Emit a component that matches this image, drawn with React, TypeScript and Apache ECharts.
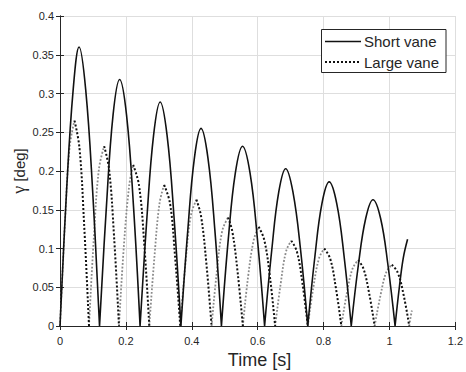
import React, { useEffect, useRef } from "react";
import * as echarts from "echarts";

// Time axis ticks / gamma axis ticks
const xTicks = [0, 0.2, 0.4, 0.6, 0.8, 1, 1.2];
const yTicks = [0, 0.05, 0.1, 0.15, 0.2, 0.25, 0.3, 0.35, 0.4];

// Short vane: one arch per list (time [s], gamma [deg])
const shortTime: number[][] = [
  [0, 0.02, 0.04, 0.058, 0.078, 0.099, 0.12],
  [0.12, 0.141, 0.161, 0.181, 0.202, 0.223, 0.243],
  [0.243, 0.264, 0.284, 0.304, 0.325, 0.346, 0.367],
  [0.367, 0.388, 0.408, 0.428, 0.449, 0.47, 0.49],
  [0.49, 0.511, 0.532, 0.554, 0.577, 0.599, 0.621],
  [0.621, 0.643, 0.664, 0.685, 0.707, 0.73, 0.752],
  [0.752, 0.774, 0.795, 0.817, 0.84, 0.862, 0.884],
  [0.884, 0.906, 0.928, 0.95, 0.973, 0.995, 1.017],
  [1.017, 1.03, 1.042, 1.055],
];
const shortGamma: number[][] = [
  [0, 0.175, 0.305, 0.36, 0.305, 0.175, 0],
  [0, 0.155, 0.272, 0.318, 0.272, 0.155, 0],
  [0, 0.141, 0.246, 0.289, 0.246, 0.141, 0],
  [0, 0.124, 0.217, 0.255, 0.217, 0.124, 0],
  [0, 0.113, 0.197, 0.232, 0.197, 0.113, 0],
  [0, 0.099, 0.173, 0.203, 0.173, 0.099, 0],
  [0, 0.091, 0.158, 0.186, 0.158, 0.091, 0],
  [0, 0.08, 0.139, 0.163, 0.139, 0.08, 0],
  [0, 0.05, 0.088, 0.112],
];

// Large vane: one arch per list
const largeTime: number[][] = [
  [0, 0.015, 0.029, 0.044, 0.059, 0.073, 0.088],
  [0.088, 0.103, 0.118, 0.134, 0.149, 0.164, 0.179],
  [0.179, 0.194, 0.21, 0.222, 0.24, 0.256, 0.271],
  [0.271, 0.287, 0.302, 0.316, 0.334, 0.349, 0.365],
  [0.365, 0.381, 0.397, 0.414, 0.428, 0.444, 0.46],
  [0.46, 0.476, 0.492, 0.51, 0.523, 0.539, 0.555],
  [0.555, 0.571, 0.588, 0.603, 0.62, 0.637, 0.653],
  [0.653, 0.67, 0.686, 0.702, 0.719, 0.736, 0.752],
  [0.752, 0.769, 0.786, 0.802, 0.82, 0.837, 0.854],
  [0.854, 0.871, 0.888, 0.905, 0.921, 0.938, 0.955],
  [0.955, 0.973, 0.99, 1.007, 1.025, 1.043, 1.06],
  [1.06, 1.064, 1.068],
];
const largeGamma: number[][] = [
  [0, 0.133, 0.23, 0.265, 0.23, 0.133, 0],
  [0, 0.116, 0.202, 0.232, 0.202, 0.116, 0],
  [0, 0.104, 0.181, 0.208, 0.181, 0.104, 0],
  [0, 0.091, 0.158, 0.182, 0.158, 0.091, 0],
  [0, 0.082, 0.142, 0.163, 0.142, 0.082, 0],
  [0, 0.07, 0.122, 0.14, 0.122, 0.07, 0],
  [0, 0.064, 0.111, 0.128, 0.111, 0.064, 0],
  [0, 0.055, 0.096, 0.11, 0.096, 0.055, 0],
  [0, 0.05, 0.087, 0.1, 0.087, 0.05, 0],
  [0, 0.043, 0.074, 0.085, 0.074, 0.043, 0],
  [0, 0.04, 0.069, 0.079, 0.069, 0.04, 0],
  [0, 0.011, 0.02],
];

const seriesNames = ["Short vane", "Large vane"];
const axisTitles = { x: "Time [s]", yGreek: "γ", yRest: " [deg]" };

type Pt = (number | string)[];

function joinArches(ts: number[][], gs: number[][], from?: number, to?: number): Pt[] {
  const out: Pt[] = [];
  ts.forEach((t, a) => {
    const g = gs[a];
    const s = from === undefined ? 0 : Math.min(from, t.length - 1);
    const e = to === undefined ? t.length - 1 : Math.min(to, t.length - 1);
    if (e <= s) return;
    for (let i = s; i <= e; i++) out.push([t[i], g[i]]);
    out.push(["-", "-"]);
  });
  return out;
}

export default function App() {
  const ref = useRef<HTMLDivElement>(null);
  useEffect(() => {
    if (!ref.current) return;
    const chart = echarts.init(ref.current, undefined, { renderer: "svg" });
    const textColor = "#262626";
    const font = "'Liberation Sans', Arial, sans-serif";
    const peakIdx = 3;
    const axisCommon = {
      axisLine: { show: true, lineStyle: { color: textColor, width: 1 } },
      axisTick: { show: true, inside: true, length: 4, lineStyle: { color: textColor } },
    };
    chart.setOption({
      animation: false,
      backgroundColor: "#ffffff",
      grid: { left: 60, top: 16, width: 398, height: 310, containLabel: false },
      xAxis: [
        {
          type: "value",
          min: xTicks[0],
          max: xTicks[xTicks.length - 1],
          interval: 0.2,
          ...axisCommon,
          axisLabel: { color: textColor, fontSize: 11, fontFamily: font, margin: 9 },
          splitLine: { show: true, lineStyle: { color: "#dedede", width: 1 } },
        },
        {
          type: "value",
          position: "top",
          min: xTicks[0],
          max: xTicks[xTicks.length - 1],
          interval: 0.2,
          ...axisCommon,
          axisLabel: { show: false },
          splitLine: { show: false },
        },
      ],
      yAxis: [
        {
          type: "value",
          min: yTicks[0],
          max: yTicks[yTicks.length - 1],
          interval: 0.05,
          ...axisCommon,
          axisLabel: { color: textColor, fontSize: 11, fontFamily: font, margin: 6 },
          splitLine: { show: true, lineStyle: { color: "#dedede", width: 1 } },
        },
        {
          type: "value",
          position: "right",
          min: yTicks[0],
          max: yTicks[yTicks.length - 1],
          interval: 0.05,
          ...axisCommon,
          axisLabel: { show: false },
          splitLine: { show: false },
        },
      ],
      series: [
        {
          name: seriesNames[1] + " rise",
          type: "line",
          data: joinArches(largeTime, largeGamma, 0, peakIdx),
          showSymbol: false,
          smooth: 0.4,
          connectNulls: false,
          lineStyle: { color: "#8a8a8a", width: 1.8, type: [1.8, 1.8] },
          z: 2,
        },
        {
          name: seriesNames[1],
          type: "line",
          data: joinArches(largeTime, largeGamma, peakIdx, undefined),
          showSymbol: false,
          smooth: 0.4,
          connectNulls: false,
          lineStyle: { color: "#111111", width: 2, type: [2, 2] },
          z: 3,
        },
        {
          name: seriesNames[0],
          type: "line",
          data: joinArches(shortTime, shortGamma),
          showSymbol: false,
          smooth: 0.4,
          connectNulls: false,
          lineStyle: { color: "#111111", width: 1.6 },
          z: 4,
        },
      ],
      graphic: [
        {
          type: "text",
          x: 259.5,
          y: 360,
          style: {
            text: axisTitles.x,
            fill: textColor,
            font: `18px ${font}`,
            align: "center",
            verticalAlign: "middle",
          },
        },
        {
          type: "text",
          x: 19,
          y: 171,
          rotation: Math.PI / 2,
          style: {
            text: `{g|${axisTitles.yGreek}}{r|${axisTitles.yRest}}`,
            align: "center",
            verticalAlign: "middle",
            rich: {
              g: { font: `18px 'Liberation Serif', serif`, fill: textColor },
              r: { font: `15px ${font}`, fill: textColor },
            },
          },
        },
        {
          type: "rect",
          shape: { x: 321.5, y: 29.5, width: 124.5, height: 43 },
          style: { fill: "#ffffff", stroke: textColor, lineWidth: 1 },
          z: 10,
        },
        {
          type: "line",
          shape: { x1: 325, y1: 41.5, x2: 361, y2: 41.5 },
          style: { stroke: "#111111", lineWidth: 1.5 },
          z: 11,
        },
        {
          type: "line",
          shape: { x1: 325, y1: 62, x2: 361, y2: 62 },
          style: { stroke: "#111111", lineWidth: 2, lineDash: [2, 2] },
          z: 11,
        },
        {
          type: "text",
          x: 364,
          y: 41.5,
          style: { text: seriesNames[0], fill: textColor, font: `15px ${font}`, verticalAlign: "middle" },
          z: 11,
        },
        {
          type: "text",
          x: 364,
          y: 62,
          style: { text: seriesNames[1], fill: textColor, font: `15px ${font}`, verticalAlign: "middle" },
          z: 11,
        },
      ],
    });
    return () => chart.dispose();
  }, []);
  return (
    <div
      ref={ref}
      style={{ position: "fixed", left: 0, top: 0, width: 466, height: 372, background: "#fff" }}
    />
  );
}
